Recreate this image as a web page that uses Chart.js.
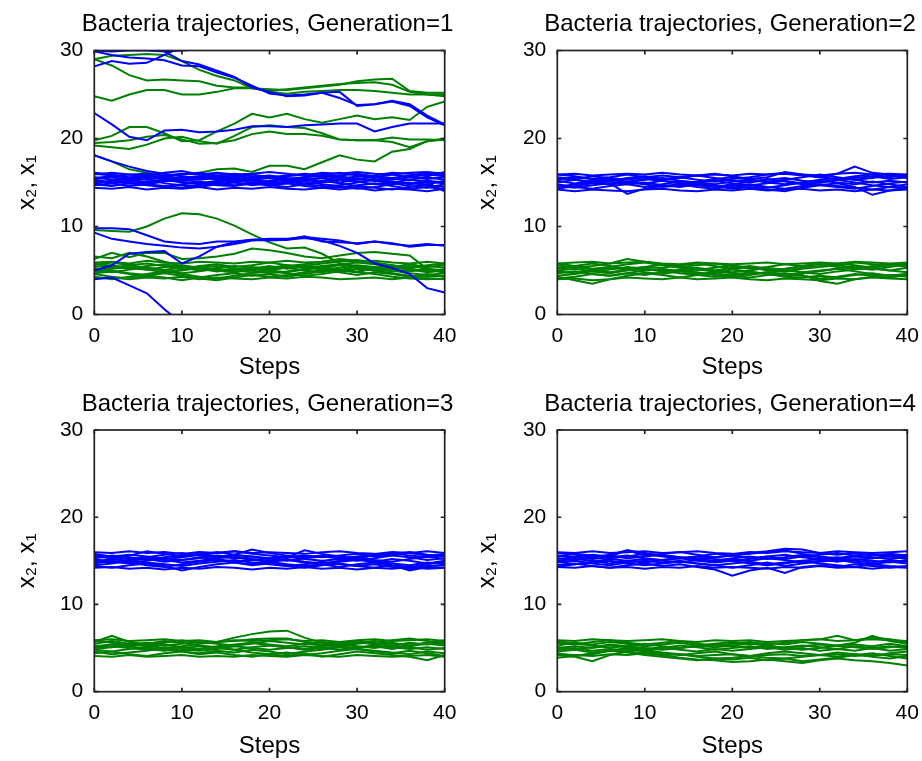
<!DOCTYPE html>
<html>
<head>
<meta charset="utf-8">
<script src="https://cdn.jsdelivr.net/npm/chart.js@4.4.1/dist/chart.umd.min.js"></script>
<style>
html,body{margin:0;padding:0;background:#fff;}
#wrap{position:relative;width:922px;height:761px;overflow:hidden;background:#fff;}
canvas{position:absolute;}
</style>
</head>
<body>
<div id="wrap">
<canvas id="c1"></canvas>
<canvas id="c2"></canvas>
<canvas id="c3"></canvas>
<canvas id="c4"></canvas>
</div>
<script>
// ---------- data ----------
const STEPS = [0,2,4,6,8, 10,12,14,16,18, 20,22,24,26,28, 30,32,34,36,38, 40];
const X_TICKS = [0,10,20,30,40];
const Y_TICKS = [0,10,20,30];
const TITLES = ['Bacteria trajectories, Generation=1','Bacteria trajectories, Generation=2','Bacteria trajectories, Generation=3','Bacteria trajectories, Generation=4'];
const X_LABEL = 'Steps';
const Y_LABEL = 'x\u2082, x\u2081';
const N = null;

// Generation 1, x2 (blue)
const GEN1_X2 = [
 [30.0,29.9,30.0,30.0,29.9, 30.0,30.1,30.6,N,N, N,N,N,N,N, N,N,N,N,N, N],
 [28.2,28.8,28.5,28.6,29.5, 30.4,N,N,N,N, N,N,N,N,N, N,N,N,N,N, N],
 [29.9,29.5,29.2,29.1,28.9, 28.3,28.2,27.5,26.9,26.0, 25.1,24.9,25.0,25.2,24.6, 23.8,23.9,24.3,23.9,22.6, 21.6],
 [N,N,N,30.6,29.9, 28.8,28.4,27.7,27.0,25.8, 25.3,24.8,24.9,25.2,25.3, 23.7,23.9,24.2,23.7,22.4, 21.5],
 [22.9,21.6,20.2,19.8,20.9, 21.0,20.7,20.8,21.0,21.4, 21.4,21.3,21.5,21.6,21.7, 21.7,20.8,21.3,21.7,21.7, 21.7],
 [18.1,17.4,16.8,16.3,16.0, 15.7,15.5,15.4,15.5,15.3, 15.6,15.2,15.4,15.5,15.0, 15.3,15.4,15.1,14.9,15.2, 15.0],
 [9.8,9.8,9.7,9.0,8.3, 8.1,8.0,8.3,8.3,8.5, 8.6,8.6,8.8,8.6,8.4, 8.0,8.3,8.1,7.7,7.9, 7.9],
 [9.3,8.6,8.3,8.0,7.8, 7.6,7.5,7.7,8.0,8.4, 8.5,8.5,8.7,8.4,7.8, 7.0,5.8,5.3,4.6,3.0, 2.5],
 [4.0,4.2,3.3,2.4,0.6, -1.0,N,N,N,N, N,N,N,N,N, N,N,N,N,N, N],
 [5.0,5.6,6.9,7.1,7.2, 5.8,6.6,7.7,8.2,8.5, 8.4,8.5,8.9,8.3,8.2, 8.1,8.3,8.0,7.8,8.0, 7.8],
 [15.0,15.2,14.9,15.1,15.3, 15.0,14.8,15.1,15.4,15.2, 15.0,14.9,15.2,15.5,15.3, 15.1,14.8,15.0,15.3,15.1, 14.9],
 [15.4,15.6,15.3,15.0,15.2, 15.5,15.7,15.4,15.2,15.6, 15.8,15.5,15.3,15.1,15.4, 15.7,15.6,15.9,15.6,15.4, 15.6],
 [14.8,14.6,14.9,14.7,14.5, 14.8,15.0,14.7,14.6,14.9, 14.7,14.5,14.8,14.6,14.4, 14.7,14.9,14.6,14.3,14.5, 14.2],
 [15.6,15.3,15.5,15.8,15.6, 15.3,15.5,15.8,16.0,15.7, 15.5,15.7,15.9,15.6,15.8, 16.0,15.7,15.5,15.8,16.1, 15.9],
 [15.2,14.9,14.6,14.8,15.1, 15.3,15.1,14.9,14.7,14.9, 15.2,15.4,15.1,14.8,14.6, 14.3,14.5,14.8,15.0,14.7, 14.5],
 [16.0,15.8,15.5,15.3,15.6, 15.9,16.1,15.8,15.6,15.3, 15.1,15.3,15.6,15.9,15.7, 15.4,15.2,15.5,15.3,15.6, 15.3],
 [14.9,15.1,15.4,15.6,15.4, 15.1,14.9,15.2,15.0,14.7, 14.9,15.1,14.8,15.0,15.3, 15.5,15.2,14.9,14.6,14.4, 14.8],
 [15.3,15.0,15.2,15.4,14.9, 14.7,14.5,14.8,15.0,15.3, 15.5,15.2,14.9,15.2,14.9, 14.6,14.4,14.2,14.5,14.8, 15.2],
 [15.5,15.7,15.9,15.6,15.4, 15.6,15.3,15.5,15.7,15.9, 15.6,15.8,16.0,15.8,15.5, 15.3,15.8,16.1,16.0,15.7, 16.2],
 [14.7,14.9,15.1,14.8,14.6, 14.4,14.7,15.0,15.2,15.0, 14.7,14.9,14.6,14.4,14.7, 15.0,15.3,15.1,14.8,15.0, 14.0],
 [16.1,15.9,15.6,15.7,16.1, 16.3,15.9,15.6,15.8,15.5, 15.7,15.4,15.6,15.8,16.1, 15.8,15.6,15.3,15.6,15.9, 15.7],
 [14.4,14.3,14.5,14.2,14.4, 14.3,14.5,14.2,14.4,14.3, 14.5,14.3,14.2,14.4,14.2, 14.4,14.1,14.3,14.2,14.0, 14.3],
 [15.9,16.1,15.9,16.0,15.8, 16.0,15.9,16.1,15.9,16.0, 16.2,16.0,15.8,16.1,16.0, 16.2,16.0,15.9,16.1,16.2, 16.0]
];
// Generation 1, x1 (green)
const GEN1_X1 = [
 [29.0,28.3,27.2,26.6,26.7, 26.6,26.5,26.0,25.8,25.8, 25.3,25.1,25.3,25.4,25.5, 25.5,25.4,25.2,25.0,25.0, 25.0],
 [29.0,29.4,29.5,29.6,29.5, 28.8,27.8,27.1,26.6,25.7, 25.4,25.6,25.8,26.0,26.2, 26.3,26.4,26.1,25.3,25.0, 24.8],
 [24.8,24.3,25.0,25.5,25.5, 25.0,25.0,25.3,25.7,25.7, 25.6,25.5,25.7,25.9,26.1, 26.5,26.7,26.8,25.4,25.2, 25.2],
 [19.8,20.3,21.3,21.3,20.6, 19.7,19.8,20.8,21.7,22.8, 22.4,22.8,22.2,21.8,22.2, 22.6,22.2,22.4,22.1,23.6, 24.2],
 [19.2,19.0,18.8,19.3,20.0, 20.2,19.7,19.4,20.3,21.3, 21.5,21.3,21.2,20.6,19.9, 19.8,19.8,20.1,19.9,19.9, 19.8],
 [19.5,19.6,19.8,20.2,20.4, 19.9,19.4,19.5,19.8,20.5, 20.8,20.5,20.5,20.3,19.9, 19.8,19.8,19.6,19.0,19.7, 19.9],
 [18.1,17.4,16.5,16.1,15.8, 15.9,16.1,16.5,16.6,16.2, 16.9,16.9,16.5,17.3,18.1, 17.6,17.4,18.5,18.8,19.7, 20.0],
 [9.6,9.5,9.4,10.0,10.9, 11.5,11.4,10.9,10.1,9.1, 8.2,7.5,7.6,6.9,5.8, 5.5,5.3,5.4,5.1,5.0, 5.1],
 [6.3,7.0,6.5,7.0,7.0, 6.3,6.4,6.6,6.9,7.5, 7.3,7.0,6.6,6.4,6.7, 7.0,7.1,6.9,6.7,5.2, 4.7],
 [6.6,6.4,7.0,6.6,6.0, 5.5,5.2,5.0,4.8,5.2, 5.0,5.4,5.6,5.2,5.0, 4.8,5.3,5.6,5.2,4.9, 5.0],
 [5.0,4.8,5.1,5.3,5.0, 4.7,4.9,5.2,5.0,4.8, 5.1,5.3,5.0,4.8,5.1, 5.4,5.2,4.9,5.1,4.8, 5.0],
 [5.4,5.6,5.3,5.1,5.4, 5.6,5.3,5.1,4.9,5.2, 5.5,5.2,5.5,5.8,6.0, 6.2,5.9,5.6,5.3,5.5, 5.3],
 [4.6,4.3,4.1,4.4,4.2, 3.9,4.2,4.5,4.7,4.4, 4.6,4.3,4.6,4.9,5.1, 4.8,4.6,4.3,4.1,4.0, 4.1],
 [5.8,5.5,5.2,5.5,5.7, 5.4,5.2,4.9,5.1,5.4, 5.2,5.5,5.7,6.0,6.3, 6.1,5.8,5.5,5.3,5.6, 5.8],
 [4.9,5.2,5.4,5.1,4.8, 5.0,5.3,5.5,5.2,5.0, 4.7,4.9,5.2,5.4,5.1, 4.9,5.2,5.0,4.7,4.5, 4.7],
 [4.3,4.0,4.3,4.6,4.9, 4.6,4.3,4.1,4.4,4.7, 4.9,4.7,4.4,4.6,4.9, 5.2,5.0,4.7,4.4,4.3, 4.4],
 [5.2,5.0,4.7,4.5,4.8, 5.1,5.3,5.0,4.8,5.1, 5.3,5.6,5.4,5.1,5.3, 5.6,5.4,5.1,4.9,5.2, 5.0],
 [5.6,5.9,5.6,5.3,5.1, 5.3,5.0,5.3,5.5,5.3, 5.0,4.8,5.1,5.3,5.6, 5.3,5.0,5.2,5.5,5.2, 4.8],
 [4.7,4.9,4.6,4.4,4.7, 4.4,4.1,3.9,4.2,4.5, 4.3,4.5,4.8,5.0,4.8, 4.5,4.8,4.6,4.3,4.6, 4.3],
 [5.1,5.3,5.6,5.8,5.5, 5.2,5.5,5.7,5.4,5.6, 5.9,5.6,5.3,5.5,5.7, 5.9,5.7,5.4,5.7,5.4, 5.6],
 [5.9,6.0,5.8,6.1,5.9, 5.8,6.0,5.9,5.8,6.0, 5.9,6.1,5.9,6.0,6.2, 6.0,6.1,5.9,5.8,6.0, 5.8],
 [4.1,4.2,4.0,4.2,4.1, 4.3,4.0,4.2,4.1,4.0, 4.2,4.1,4.3,4.2,4.0, 4.1,4.2,4.0,4.2,4.1, 4.0]
];
// Generation 2
const GEN2_X2 = [
 [15.0,15.3,15.1,14.8,15.0, 15.3,15.5,15.2,15.0,14.8, 15.1,15.3,15.0,14.8,15.0, 15.3,15.5,15.3,15.0,15.2, 15.0],
 [15.6,15.4,15.7,15.5,15.3, 15.6,15.8,15.6,15.3,15.1, 15.4,15.6,15.9,16.0,15.8, 15.6,16.0,16.8,16.1,15.9, 15.7],
 [14.6,14.4,14.7,14.9,13.7, 14.3,14.6,14.8,14.5,14.3, 14.6,14.8,14.5,14.3,14.6, 14.8,14.6,14.4,14.2,14.5, 14.3],
 [15.3,15.6,15.4,15.2,15.5, 15.7,15.4,15.6,15.8,15.5, 15.2,15.0,15.3,15.5,15.2, 15.0,15.3,15.5,15.7,15.4, 15.6],
 [14.8,14.5,14.3,14.6,14.8, 15.0,14.7,14.5,14.8,14.6, 14.3,14.5,14.2,14.0,14.4, 14.7,14.9,14.5,13.6,14.1, 14.4],
 [15.9,15.7,15.4,15.6,15.9, 15.6,15.3,15.5,15.8,16.0, 15.7,15.4,15.6,16.2,15.9, 15.6,15.4,15.7,15.9,15.6, 15.9],
 [14.3,14.6,14.9,15.1,14.8, 14.5,14.8,15.1,14.9,14.6, 14.4,14.7,14.9,15.2,14.9, 14.7,14.5,14.3,14.6,14.9, 15.1],
 [15.2,14.9,15.2,15.4,15.1, 14.9,15.2,15.0,14.7,14.5, 14.8,15.1,15.4,15.1,14.8, 15.0,15.3,15.0,14.7,14.5, 14.8],
 [15.5,15.3,15.0,14.8,15.1, 15.4,15.2,14.9,15.1,15.4, 15.6,15.3,15.1,15.3,15.6, 15.9,15.6,15.3,15.5,15.8, 15.5],
 [14.5,14.8,15.0,15.3,15.0, 14.8,14.5,14.7,15.0,15.2, 14.9,14.7,14.4,14.7,15.0, 15.2,15.0,14.8,15.1,14.8, 14.5],
 [15.9,16.0,15.8,15.9,16.0, 15.9,16.1,15.9,15.8,15.9, 15.8,16.0,15.9,16.1,15.9, 15.8,16.0,16.1,15.9,16.0, 15.9],
 [14.2,14.0,14.2,14.1,14.0, 14.2,14.3,14.1,14.0,14.2, 14.1,14.3,14.1,14.2,14.3, 14.1,14.2,14.0,14.2,14.1, 14.2]
];
const GEN2_X1 = [
 [5.0,5.2,4.9,5.1,5.4, 5.2,4.9,5.1,5.3,5.0, 4.8,5.0,5.3,5.1,4.8, 5.0,5.2,5.5,5.2,5.0, 5.3],
 [4.3,3.9,3.5,4.0,4.4, 4.7,4.5,4.2,4.5,4.7, 4.4,4.2,4.5,4.7,4.5, 3.8,3.5,4.0,4.3,4.5, 4.3],
 [5.6,5.3,5.5,5.8,6.3, 6.0,5.7,5.4,5.6,5.8, 5.5,5.2,5.4,5.7,5.5, 5.8,5.6,5.9,5.7,5.5, 5.8],
 [4.7,4.9,4.6,4.4,4.7, 5.0,5.2,4.9,4.6,4.8, 5.1,4.9,4.6,4.4,4.7, 4.9,5.2,4.9,4.6,4.4, 4.6],
 [5.3,5.5,5.8,5.5,5.2, 5.4,5.7,5.5,5.2,5.0, 5.3,5.5,5.2,5.0,5.3, 5.5,5.8,5.6,5.3,5.6, 5.5],
 [4.4,4.6,4.9,4.7,5.0, 5.2,5.0,4.7,4.5,4.3, 4.5,4.8,4.6,4.3,4.2, 4.4,4.2,4.5,4.7,4.4, 4.6],
 [5.8,5.5,5.2,5.4,5.7, 5.9,5.6,5.3,5.1,5.3, 5.6,5.3,5.1,4.9,5.2, 5.4,5.6,5.3,5.1,5.4, 5.7],
 [4.9,4.7,5.0,5.3,5.1, 4.8,4.6,4.9,5.1,4.9, 4.7,4.5,4.8,5.0,4.8, 4.6,4.9,5.1,5.3,5.0, 4.8],
 [5.2,5.4,5.1,4.8,5.1, 5.4,5.3,5.6,5.8,5.5, 5.2,5.4,5.0,5.2,5.5, 5.7,5.4,5.2,5.5,5.7, 5.4],
 [4.1,4.3,4.6,4.4,4.7, 4.5,4.8,5.0,4.8,4.5, 4.3,4.6,4.8,4.6,4.4, 4.1,4.3,4.6,4.4,4.2, 4.5],
 [5.8,5.9,6.0,5.8,5.9, 6.0,5.8,5.7,5.9,5.8, 5.7,5.8,5.9,5.7,5.8, 5.9,5.8,6.0,5.9,5.8, 5.9],
 [4.0,4.1,3.9,4.0,4.2, 4.1,4.0,4.2,4.0,4.1, 4.2,4.0,3.9,4.1,4.0, 3.9,4.1,4.0,4.2,4.1, 4.0]
];
// Generation 3
const GEN3_X2 = [
 [15.0,14.8,15.1,15.3,15.1, 14.8,15.0,15.3,15.5,15.2, 15.0,15.2,14.9,14.7,15.0, 15.2,14.9,14.7,14.5,14.8, 14.6],
 [15.5,15.3,15.6,16.1,15.8, 15.5,15.7,15.9,16.1,15.8, 15.6,15.4,16.2,15.8,15.5, 15.3,15.6,15.8,16.0,15.7, 15.5],
 [14.4,14.2,14.5,14.7,14.4, 13.9,14.3,14.6,14.8,14.5, 14.7,14.4,14.2,14.5,14.7, 14.4,14.2,14.5,13.9,14.3, 14.2],
 [15.3,15.6,15.4,15.1,15.4, 15.6,15.8,15.5,15.3,15.5, 15.3,15.0,15.3,15.5,15.3, 15.0,15.3,15.6,15.4,15.1, 15.3],
 [14.7,15.0,14.8,14.5,14.3, 14.6,14.9,15.1,14.8,14.6, 14.9,15.1,14.8,14.6,14.3, 14.6,14.8,14.5,14.3,14.6, 14.9],
 [15.8,15.5,15.7,15.5,15.2, 15.4,15.7,16.0,15.7,16.3, 15.9,15.6,15.4,15.6,15.3, 15.5,15.7,15.9,15.6,15.4, 15.7],
 [14.9,15.2,15.0,15.2,14.9, 15.1,15.4,15.2,14.9,15.1, 14.9,14.6,14.4,14.6,14.9, 15.1,14.9,15.2,15.0,14.7, 15.0],
 [15.2,14.9,14.7,15.0,15.3, 15.1,15.3,15.6,15.4,15.1, 15.3,15.5,15.2,15.0,15.2, 15.4,15.1,14.9,15.2,15.5, 15.2],
 [14.5,14.7,15.0,14.8,14.6, 14.4,14.7,14.9,15.1,14.8, 14.6,14.4,14.6,14.9,14.6, 14.4,14.6,14.3,14.1,14.4, 14.5],
 [15.6,15.4,15.2,15.4,15.7, 15.9,15.6,15.4,15.7,15.5, 15.2,15.4,15.6,15.4,15.6, 15.8,15.5,15.7,15.9,15.6, 15.8],
 [16.0,15.9,16.1,15.9,16.0, 15.8,16.0,15.9,16.1,15.9, 16.0,15.9,15.8,16.0,16.1, 15.9,15.8,16.0,15.9,16.1, 15.9],
 [14.2,14.3,14.1,14.2,14.0, 14.2,14.1,14.3,14.2,14.0, 14.2,14.1,14.3,14.1,14.2, 14.0,14.2,14.1,14.3,14.1, 14.2]
];
const GEN3_X1 = [
 [5.0,5.2,5.0,4.8,5.1, 4.9,4.7,4.9,5.2,5.0, 4.8,5.0,5.2,5.0,4.8, 5.1,5.3,5.1,4.9,5.1, 4.9],
 [5.7,6.4,5.7,5.4,5.6, 5.9,5.6,5.7,6.2,6.6, 6.9,7.0,6.2,5.6,5.4, 5.6,5.8,5.5,5.3,5.6, 5.5],
 [4.4,4.6,4.3,4.1,4.4, 4.6,4.3,4.5,4.2,4.0, 4.3,4.1,4.4,4.0,4.3, 4.6,4.4,4.2,4.0,3.6, 4.2],
 [5.3,5.1,5.4,5.6,5.3, 5.5,5.7,5.5,5.3,5.6, 5.4,5.2,5.5,5.3,5.6, 5.8,5.5,5.3,5.6,5.4, 5.7],
 [4.8,4.6,4.9,5.1,4.8, 4.6,4.4,4.7,4.5,4.8, 4.6,4.3,4.6,4.8,5.1, 4.9,4.7,4.5,4.3,4.6, 4.4],
 [5.5,5.8,5.5,5.3,5.0, 5.2,5.5,5.7,5.8,6.0, 6.1,6.1,5.7,5.4,5.2, 5.5,5.7,5.9,6.1,5.8, 5.5],
 [4.6,4.3,4.5,4.7,5.0, 4.7,4.9,5.1,4.8,4.5, 4.3,4.5,4.2,4.4,4.7, 4.9,4.6,4.4,4.7,4.4, 4.1],
 [5.2,5.4,5.2,4.9,4.7, 5.0,5.2,5.0,4.8,5.1, 5.3,5.1,4.9,5.2,5.4, 5.2,5.0,5.3,5.1,4.8, 5.0],
 [4.9,5.1,5.4,5.2,5.4, 5.1,4.9,5.2,5.4,5.6, 5.3,5.1,4.8,5.0,5.2, 5.0,5.2,4.9,5.2,5.5, 5.3],
 [5.9,5.6,5.3,5.5,5.8, 5.6,5.3,5.1,5.3,5.5, 5.8,5.6,5.4,5.7,5.5, 5.7,5.4,5.6,5.3,5.6, 5.9],
 [5.9,6.0,5.8,5.9,6.0, 5.8,5.9,5.7,5.9,5.8, 5.9,6.0,5.8,5.9,5.7, 5.9,6.0,5.8,5.9,6.0, 5.8],
 [4.1,4.0,4.2,4.0,4.1, 4.2,4.0,4.1,4.0,4.2, 4.1,4.0,4.2,4.1,4.0, 4.2,4.1,4.0,4.1,4.2, 4.0]
];
// Generation 4
const GEN4_X2 = [
 [15.0,15.2,15.0,14.7,15.0, 15.2,15.0,14.8,15.1,14.9, 15.2,15.0,15.3,15.1,14.8, 15.0,15.2,15.0,14.8,15.1, 14.9],
 [15.6,15.4,15.7,15.5,16.2, 15.9,15.6,15.4,15.2,15.4, 15.6,15.9,16.1,16.4,16.3, 15.9,15.7,15.9,15.6,15.8, 15.6],
 [14.5,14.7,14.4,14.2,14.5, 14.7,14.4,14.6,14.3,14.0, 13.3,13.9,14.2,13.6,14.3, 14.5,14.3,14.6,14.4,14.2, 14.4],
 [15.3,15.1,15.4,15.6,15.3, 15.5,15.7,15.4,15.2,15.0, 15.3,15.5,15.2,15.4,15.7, 15.4,15.2,15.5,15.3,15.6, 15.4],
 [14.8,15.0,14.7,14.5,14.8, 15.0,14.8,15.0,14.7,14.5, 14.2,14.5,14.8,14.4,14.7, 14.9,15.1,14.8,14.6,14.9, 14.7],
 [15.9,15.7,15.4,15.7,16.2, 15.6,15.8,16.0,15.7,15.4, 15.6,15.8,16.0,16.2,15.8, 15.5,15.3,15.6,15.8,15.5, 15.7],
 [14.3,14.6,14.8,15.0,14.7, 14.5,14.7,14.9,14.7,14.5, 14.7,14.9,14.6,14.8,15.0, 14.7,14.5,14.3,14.6,14.4, 14.3],
 [15.2,15.4,15.2,15.4,15.6, 15.3,15.1,15.3,15.5,15.2, 15.0,15.2,15.5,15.7,15.4, 15.2,15.4,15.1,15.3,15.5, 15.2],
 [14.9,14.6,14.9,15.2,15.0, 14.8,15.1,15.3,15.0,14.8, 15.0,14.7,14.5,14.7,15.0, 15.2,14.9,15.2,15.0,14.8, 15.1],
 [15.5,15.8,15.6,15.3,15.5, 15.8,15.5,15.3,15.5,15.8, 15.6,15.3,15.5,15.2,15.5, 15.7,15.9,15.6,15.4,15.2, 15.5],
 [16.0,15.9,16.1,15.9,16.0, 16.1,15.9,16.0,16.1,15.9, 15.8,16.0,15.9,16.1,16.0, 15.9,16.1,16.0,15.9,16.0, 16.1],
 [14.3,14.2,14.4,14.2,14.3, 14.1,14.3,14.2,14.4,14.2, 14.3,14.2,14.1,14.3,14.2, 14.4,14.2,14.3,14.1,14.3, 14.2]
];
const GEN4_X1 = [
 [5.0,5.2,5.0,5.3,5.1, 4.8,5.0,5.3,5.1,4.8, 5.0,5.2,4.9,5.1,5.3, 5.1,4.9,5.2,5.0,5.2, 5.0],
 [4.2,4.0,3.5,4.2,4.6, 4.4,4.2,3.9,3.7,3.6, 3.4,3.5,3.7,3.5,3.3, 3.6,3.8,3.6,3.5,3.3, 3.0],
 [5.6,5.4,5.7,5.9,5.6, 5.4,5.6,5.8,5.5,5.3, 5.5,5.7,5.4,5.6,5.9, 6.0,6.4,5.9,6.2,6.0, 5.7],
 [4.6,4.8,4.5,4.7,4.9, 4.6,4.4,4.2,4.4,4.6, 4.3,4.1,4.4,4.6,4.4, 4.2,4.5,4.3,4.1,4.4, 4.6],
 [5.3,5.6,5.4,5.7,5.5, 5.2,5.4,5.6,5.3,5.5, 5.7,5.4,5.6,5.4,5.7, 5.5,5.3,5.6,6.4,5.8, 5.5],
 [4.4,4.1,4.3,4.7,5.0, 4.8,4.5,4.3,4.0,3.8, 3.9,4.1,3.9,3.8,4.0, 4.2,4.0,4.3,4.0,3.8, 4.1],
 [5.8,5.5,5.3,5.0,5.3, 5.5,5.2,5.0,5.2,5.4, 5.2,5.0,5.3,5.0,4.8, 5.0,5.3,5.1,4.9,5.1, 5.3],
 [4.8,5.0,4.7,4.9,4.7, 4.9,5.1,4.8,4.6,4.9, 4.7,4.9,5.1,4.8,5.0, 4.7,4.9,4.7,5.0,4.7, 4.9],
 [5.1,4.9,5.1,5.4,5.2, 5.0,4.8,5.0,5.3,5.1, 5.3,5.5,5.3,5.0,5.2, 5.4,5.2,5.4,5.2,5.5, 5.2],
 [3.9,4.1,4.4,4.7,4.5, 4.2,4.0,3.8,3.6,3.8, 3.7,3.9,3.6,3.8,3.5, 3.7,3.9,4.2,4.4,4.1, 3.8],
 [5.9,5.8,6.0,5.9,5.8, 5.9,6.0,5.8,5.7,5.9, 5.8,5.9,5.7,5.8,5.9, 6.0,5.8,5.9,6.0,5.9, 5.8],
 [4.3,4.2,4.1,4.3,4.2, 4.4,4.2,4.3,4.1,4.2, 4.3,4.1,4.2,4.3,4.1, 4.2,4.3,4.1,4.2,4.3, 4.2]
];

// ---------- checks ----------
[GEN1_X2,GEN1_X1,GEN2_X2,GEN2_X1,GEN3_X2,GEN3_X1,GEN4_X2,GEN4_X1].forEach((g,gi)=>{
  g.forEach((a,i)=>{ if(a.length!==STEPS.length) throw new Error('length mismatch group '+gi+' line '+i+': '+a.length); });
});

// ---------- styling / layout ----------
const BLUE = '#0000ff';
const GREEN = '#008000';
const FONT = "'Liberation Sans', Arial, Helvetica, sans-serif";
const PANELS = [
  {id:'c1', left:0,   top:0,   w:535, h:380, pl:94.3, pt:50.5, pr:444.7, pb:314.5, titleTop:10.1, ytPad:12.6, xtPad:-2, x2:GEN1_X2, x1:GEN1_X1, title:TITLES[0]},
  {id:'c2', left:461, top:0,   w:538, h:380, pl:96.3, pt:50.5, pr:446.3, pb:314.5, titleTop:10.1, ytPad:11.6, xtPad:-2, x2:GEN2_X2, x1:GEN2_X1, title:TITLES[1]},
  {id:'c3', left:0,   top:380, w:535, h:381, pl:94.3, pt:50.0, pr:444.7, pb:311.7, titleTop:9.6, ytPad:12.6, xtPad:0.6, x2:GEN3_X2, x1:GEN3_X1, title:TITLES[2]},
  {id:'c4', left:461, top:380, w:538, h:381, pl:96.3, pt:50.0, pr:446.3, pb:311.7, titleTop:9.6, ytPad:11.6, xtPad:0.6, x2:GEN4_X2, x1:GEN4_X1, title:TITLES[3]}
];

const framePlugin = {
  id: 'matlabFrame',
  afterDatasetsDraw(chart) {
    const {ctx, chartArea: a} = chart;
    const xs = chart.scales.x, ys = chart.scales.y;
    ctx.save();
    ctx.strokeStyle = '#222';
    ctx.lineWidth = 1.7;
    ctx.strokeRect(a.left, a.top, a.right - a.left, a.bottom - a.top);
    ctx.beginPath();
    X_TICKS.forEach(v => {
      const p = xs.getPixelForValue(v);
      ctx.moveTo(p, a.bottom); ctx.lineTo(p, a.bottom - 4);
      ctx.moveTo(p, a.top); ctx.lineTo(p, a.top + 4);
    });
    Y_TICKS.forEach(v => {
      const p = ys.getPixelForValue(v);
      ctx.moveTo(a.left, p); ctx.lineTo(a.left + 4, p);
      ctx.moveTo(a.right, p); ctx.lineTo(a.right - 4, p);
    });
    ctx.stroke();
    ctx.restore();
  }
};

function toPoints(arr) { return arr.map((v, i) => ({x: STEPS[i], y: v})); }

function makeChart(p) {
  const cv = document.getElementById(p.id);
  cv.width = p.w; cv.height = p.h;
  cv.style.left = p.left + 'px'; cv.style.top = p.top + 'px';
  cv.style.width = p.w + 'px'; cv.style.height = p.h + 'px';
  const lineStyle = {pointRadius: 0, borderWidth: 2, fill: false, tension: 0, spanGaps: false};
  const datasets = [];
  p.x2.forEach(a => datasets.push(Object.assign({data: toPoints(a), borderColor: BLUE}, lineStyle)));
  p.x1.forEach(a => datasets.push(Object.assign({data: toPoints(a), borderColor: GREEN}, lineStyle)));
  const titleLine = 24 * 1.2;
  new Chart(cv, {
    type: 'line',
    data: {datasets},
    options: {
      responsive: false, animation: false, devicePixelRatio: 1, events: [],
      layout: {padding: 0},
      plugins: {
        legend: {display: false},
        tooltip: {enabled: false},
        title: {display: true, text: p.title, color: '#000',
          font: {family: FONT, size: 24, weight: 'normal'},
          padding: {top: p.titleTop, bottom: p.pt - p.titleTop - titleLine}}
      },
      scales: {
        x: {type: 'linear', position: 'bottom', min: 0, max: 40,
          afterBuildTicks: s => { s.ticks = X_TICKS.map(v => ({value: v})); },
          ticks: {color: '#000', font: {family: FONT, size: 21}, padding: 9, maxRotation: 0, callback: v => String(v)},
          grid: {display: false, drawTicks: false}, border: {display: false},
          title: {display: true, text: X_LABEL, color: '#000', font: {family: FONT, size: 24}, padding: {top: 0, bottom: p.xtPad}},
          afterFit: s => { s.height = p.h - p.pb; }
        },
        y: {type: 'linear', position: 'left', min: 0, max: 30,
          afterBuildTicks: s => { s.ticks = Y_TICKS.map(v => ({value: v})); },
          ticks: {color: '#000', font: {family: FONT, size: 21}, padding: 11, callback: v => String(v)},
          grid: {display: false, drawTicks: false}, border: {display: false},
          title: {display: true, text: Y_LABEL, color: '#000', font: {family: FONT, size: 24}, padding: {top: p.ytPad, bottom: 0}},
          afterFit: s => { s.width = p.pl; }
        },
        yR: {type: 'linear', position: 'right', min: 0, max: 30, display: true,
          ticks: {display: false}, grid: {display: false, drawTicks: false}, border: {display: false},
          afterFit: s => { s.width = p.w - p.pr; }
        }
      }
    },
    plugins: [framePlugin]
  });
}

PANELS.forEach(makeChart);
</script>
</body>
</html>
